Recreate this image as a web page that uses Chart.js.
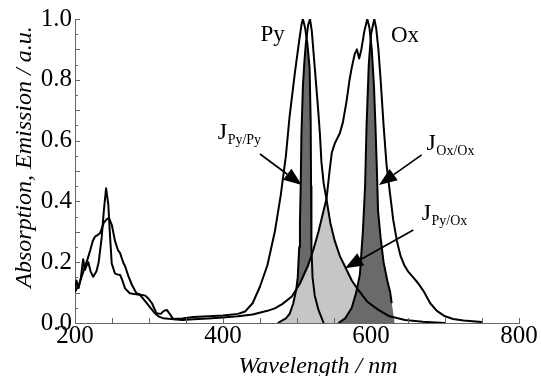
<!DOCTYPE html>
<html>
<head>
<meta charset="utf-8">
<script src="https://cdn.jsdelivr.net/npm/chart.js@4/dist/chart.umd.min.js"></script>
<style>
  html, body { margin: 0; padding: 0; background: #fff; }
  #wrap { width: 541px; height: 376px; }
</style>
</head>
<body>
<div id="wrap"><canvas id="spectraChart"></canvas></div>
<script>
// [wavelength in nm, intensity in a.u.]
const pyAbsorption = [
  [200, 0.103], [202, 0.14], [205, 0.115], [208, 0.15], [211, 0.21], [213.5, 0.175], [216, 0.19],
  [218, 0.2], [221, 0.17], [224.6, 0.152], [229, 0.17], [232, 0.2], [236, 0.28], [239, 0.37],
  [242, 0.443], [245, 0.39], [247, 0.3], [249.6, 0.196], [254, 0.163], [257, 0.16], [261, 0.158],
  [264, 0.14], [267.6, 0.114], [274, 0.098], [281, 0.095], [288, 0.092], [292, 0.08], [297, 0.065],
  [302, 0.05], [308, 0.032], [314, 0.02], [319, 0.016], [330, 0.013], [345, 0.015], [360, 0.02],
  [380, 0.022], [400, 0.025], [420, 0.03], [430, 0.038], [440, 0.065], [450, 0.12], [460, 0.19],
  [470, 0.3], [478, 0.42], [485, 0.55], [490, 0.68], [497, 0.82], [503, 0.93], [506, 0.98],
  [508, 1.0], [511, 0.97], [514, 0.92], [517, 0.84], [518.5, 0.66], [519, 0.45], [519.5, 0.25],
  [521, 0.15], [524, 0.09], [529, 0.043], [536, 0]
];

const pyEmission = [
  [474, 0], [485, 0.015], [490, 0.03], [495, 0.065], [499, 0.11], [501, 0.15], [503, 0.25],
  [504, 0.33], [505, 0.45], [506, 0.62], [508, 0.78], [510, 0.86], [512, 0.92], [515, 0.98],
  [517.6, 1.0], [520, 0.96], [524, 0.84], [528, 0.72], [531, 0.62], [533, 0.53], [536, 0.46],
  [540, 0.405], [545, 0.33], [551, 0.27], [558, 0.22], [565, 0.185], [574, 0.14], [583, 0.108],
  [595, 0.07], [610, 0.043], [625, 0.022], [646, 0.01], [670, 0.004], [700, 0]
];

const oxAbsorption = [
  [200, 0.103], [203, 0.115], [206, 0.13], [210, 0.16], [214, 0.19], [217, 0.21], [220.7, 0.24],
  [224, 0.27], [227, 0.284], [231, 0.29], [234, 0.296], [239, 0.33], [243, 0.342], [246, 0.346],
  [250, 0.32], [254, 0.27], [258, 0.24], [261, 0.23], [265, 0.2], [268, 0.185], [272, 0.155],
  [277, 0.125], [283, 0.098], [289, 0.093], [295, 0.09], [300, 0.078], [304, 0.065], [310, 0.032],
  [316, 0.03], [320, 0.04], [324, 0.043], [328, 0.03], [333, 0.012], [345, 0.01], [360, 0.012],
  [380, 0.015], [400, 0.018], [420, 0.022], [440, 0.028], [460, 0.04], [470, 0.048], [480, 0.062],
  [493, 0.087], [504, 0.13], [515, 0.19], [522, 0.24], [529, 0.3], [535, 0.36], [540, 0.41],
  [544, 0.5], [547, 0.56], [551, 0.59], [555, 0.61], [558, 0.625], [562, 0.66], [567, 0.73],
  [571, 0.8], [574, 0.84], [578, 0.885], [581, 0.9], [584, 0.87], [587, 0.9], [591, 0.96],
  [595, 1.0], [598, 0.97], [601, 0.9], [604, 0.78], [606, 0.65], [608, 0.5], [609.5, 0.37],
  [613, 0.28], [617, 0.2], [622, 0.14], [626, 0.1], [628, 0.065]
];

const oxEmission = [
  [556, 0], [565, 0.015], [574, 0.05], [580, 0.1], [585, 0.16], [589, 0.3], [592, 0.45],
  [594, 0.65], [597, 0.85], [600, 0.95], [604.5, 1.0], [607, 0.97], [610, 0.9], [613, 0.8],
  [617, 0.65], [621, 0.52], [626, 0.42], [630, 0.34], [635, 0.27], [640, 0.22], [645, 0.19],
  [650, 0.17], [657, 0.15], [664, 0.13], [671, 0.105], [680, 0.065], [689, 0.04], [700, 0.022],
  [711, 0.013], [725, 0.008], [750, 0.003]
];

// shaded overlap areas (outline)
const overlapPyPy = [
  [474, 0], [485, 0.015], [490, 0.03], [495, 0.065], [499, 0.11], [501, 0.15], [503, 0.25],
  [504, 0.33], [505, 0.45], [506, 0.62], [508, 0.78], [510, 0.86], [512, 0.92], [513, 0.935],
  [514, 0.92], [517, 0.84], [518.5, 0.66], [519, 0.45], [519.5, 0.25], [521, 0.15], [524, 0.09],
  [529, 0.043], [536, 0]
];

const overlapPyOx = [
  [474, 0], [485, 0.015], [490, 0.03], [495, 0.065], [499, 0.11], [500.5, 0.12], [504, 0.13],
  [515, 0.19], [522, 0.24], [529, 0.3], [535, 0.36], [540, 0.405], [545, 0.33], [551, 0.27],
  [558, 0.22], [565, 0.185], [574, 0.14], [583, 0.108], [595, 0.07], [610, 0.043], [625, 0.022],
  [632, 0]
];

const overlapOxOx = [
  [556, 0], [565, 0.015], [574, 0.05], [580, 0.1], [585, 0.16], [589, 0.3], [592, 0.45],
  [594, 0.65], [597, 0.85], [599.5, 0.93], [601, 0.9], [604, 0.78], [606, 0.65], [608, 0.5],
  [609.5, 0.37], [613, 0.28], [617, 0.2], [622, 0.14], [626, 0.1], [629, 0.05], [632, 0]
];

const xTicks = [200, 400, 600, 800];
const yTicks = [0, 0.2, 0.4, 0.6, 0.8, 1.0];

const serif = "'Liberation Serif', 'DejaVu Serif', serif";
const axisColor = "#666";
const darkFill = "#6a6a6a";
const lightFill = "#c6c6c6";

const toPoints = (pairs) => pairs.map(([x, y]) => ({ x, y }));

function lineSet(pairs) {
  return {
    data: toPoints(pairs),
    borderColor: "#000",
    borderWidth: 2,
    borderJoinStyle: "round",
    pointRadius: 0,
    fill: false,
    tension: 0
  };
}

function fillSet(pairs, color) {
  return {
    data: toPoints(pairs),
    borderWidth: 0,
    borderColor: "transparent",
    backgroundColor: color,
    pointRadius: 0,
    fill: "origin",
    tension: 0
  };
}

function drawArrow(ctx, x0, y0, x1, y1) {
  const angle = Math.atan2(y1 - y0, x1 - x0);
  const head = 18;
  const half = 7;
  const bx = x1 - head * Math.cos(angle);
  const by = y1 - head * Math.sin(angle);
  ctx.beginPath();
  ctx.moveTo(x0, y0);
  ctx.lineTo(bx, by);
  ctx.stroke();
  ctx.beginPath();
  ctx.moveTo(x1, y1);
  ctx.lineTo(bx + half * Math.sin(angle), by - half * Math.cos(angle));
  ctx.lineTo(bx - half * Math.sin(angle), by + half * Math.cos(angle));
  ctx.closePath();
  ctx.fill();
}

function drawOverlapLabel(ctx, x, y, sub) {
  ctx.font = `24px ${serif}`;
  ctx.textAlign = "left";
  ctx.fillText("J", x, y);
  const w = ctx.measureText("J").width;
  ctx.font = `14px ${serif}`;
  ctx.fillText(sub, x + w + 0.5, y + 5);
}

// axis titles, inward tick marks, labels and arrows
const decorations = {
  id: "decorations",
  afterDraw(chart) {
    const { ctx, chartArea } = chart;
    const xs = chart.scales.x;
    const ys = chart.scales.y;
    const px = (v) => xs.getPixelForValue(v);
    const py = (v) => ys.getPixelForValue(v);

    ctx.save();
    ctx.strokeStyle = axisColor;
    ctx.lineWidth = 1;
    for (let v = 250; v <= 800; v += 50) {
      const x = Math.round(px(v)) + 0.5;
      ctx.beginPath();
      ctx.moveTo(x, chartArea.bottom);
      ctx.lineTo(x, chartArea.bottom - 5);
      ctx.stroke();
    }
    for (let i = 1; i <= 20; i++) {
      const y = Math.round(py(i * 0.05)) + 0.5;
      ctx.beginPath();
      ctx.moveTo(chartArea.left, y);
      ctx.lineTo(chartArea.left + (i % 2 === 0 ? 5 : 3), y);
      ctx.stroke();
    }

    ctx.fillStyle = "#000";
    ctx.strokeStyle = "#000";
    ctx.textBaseline = "alphabetic";

    ctx.font = `italic 24px ${serif}`;
    ctx.textAlign = "center";
    ctx.fillText("Wavelength / nm", 318, 373);

    ctx.save();
    ctx.translate(31, 157);
    ctx.rotate(-Math.PI / 2);
    ctx.fillText("Absorption, Emission / a.u.", 0, 0);
    ctx.restore();

    ctx.font = `23px ${serif}`;
    ctx.textAlign = "center";
    ctx.fillText("Py", px(467), py(0.928));
    ctx.fillText("Ox", px(646), py(0.925));

    drawOverlapLabel(ctx, px(393), py(0.605), "Py/Py");
    drawOverlapLabel(ctx, px(675), py(0.569), "Ox/Ox");
    drawOverlapLabel(ctx, px(668.5), py(0.339), "Py/Ox");

    ctx.lineWidth = 1.7;
    drawArrow(ctx, px(450), py(0.556), px(506.4), py(0.454));
    drawArrow(ctx, px(668.5), py(0.553), px(610.8), py(0.454));
    drawArrow(ctx, px(657.2), py(0.306), px(564.9), py(0.18));
    ctx.restore();
  }
};

new Chart(document.getElementById("spectraChart"), {
  type: "line",
  data: {
    datasets: [
      lineSet(pyAbsorption),
      lineSet(pyEmission),
      lineSet(oxAbsorption),
      lineSet(oxEmission),
      fillSet(overlapOxOx, darkFill),
      fillSet(overlapPyOx, lightFill),
      fillSet(overlapPyPy, darkFill)
    ]
  },
  options: {
    responsive: true,
    maintainAspectRatio: false,
    animation: false,
    layout: { padding: { top: 19, right: 22, left: 0, bottom: 0 } },
    plugins: {
      legend: { display: false },
      tooltip: { enabled: false }
    },
    scales: {
      x: {
        type: "linear",
        min: 200,
        max: 800,
        afterBuildTicks: (axis) => { axis.ticks = xTicks.map((value) => ({ value })); },
        afterFit: (axis) => { axis.height = 53; },
        grid: { drawOnChartArea: false, drawTicks: false },
        border: { color: axisColor, width: 1 },
        ticks: {
          color: "#000",
          padding: 1,
          autoSkip: false,
          maxRotation: 0,
          font: { family: serif, size: 25, lineHeight: 1 }
        }
      },
      y: {
        type: "linear",
        min: 0,
        max: 1,
        afterBuildTicks: (axis) => { axis.ticks = yTicks.map((value) => ({ value })); },
        afterFit: (axis) => { axis.width = 75; },
        grid: { drawOnChartArea: false, drawTicks: false },
        border: { color: axisColor, width: 1 },
        ticks: {
          color: "#000",
          padding: 3,
          callback: (value) => value.toFixed(1),
          font: { family: serif, size: 25, lineHeight: 1 }
        }
      }
    }
  },
  plugins: [decorations]
});
</script>
</body>
</html>
